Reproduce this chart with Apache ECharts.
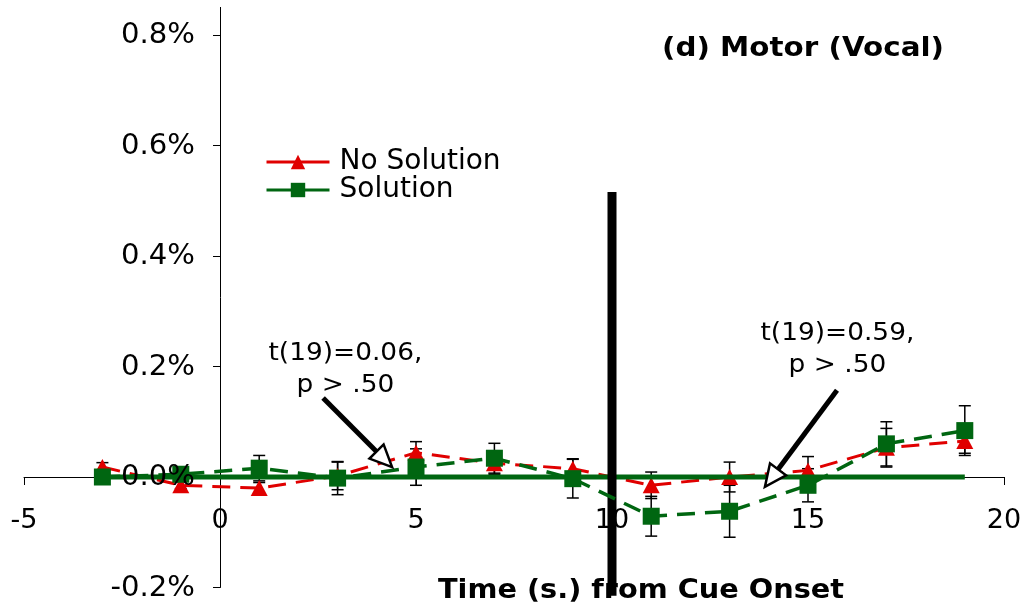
<!DOCTYPE html>
<html>
<head>
<meta charset="utf-8">
<script src="https://cdn.jsdelivr.net/npm/echarts@6/dist/echarts.min.js"></script>
<style>html,body{margin:0;padding:0;background:#fff;}#c{width:1029px;height:613px;}</style>
</head>
<body>
<div id="c"></div>
<script>
// ---- data ----
var times = [-3, -1, 1, 3, 5, 7, 9, 11, 13, 15, 17, 19];
var noSolution = [0.018, -0.015, -0.02, 0.002, 0.044, 0.025, 0.015, -0.015, 0.0, 0.012, 0.053, 0.065];
var noSolutionErr = [0.008, 0.006, 0.01, 0.025, 0.02, 0.02, 0.018, 0.024, 0.027, 0.025, 0.035, 0.022];
var solution = [0.0, 0.005, 0.016, -0.002, 0.018, 0.034, -0.003, -0.071, -0.062, -0.015, 0.06, 0.084];
var solutionErr = [0.005, 0.005, 0.023, 0.03, 0.033, 0.027, 0.035, 0.036, 0.047, 0.03, 0.04, 0.045];
var yTicks = [-0.2, 0, 0.2, 0.4, 0.6, 0.8];
var xTicks = [-5, 0, 5, 10, 15, 20];
var baselineX = [-3, 19];
var cueLineX = 10;
var cueLineY = [0.516, -0.215];
var annTexts = ['t(19)=0.06,\np > .50', 't(19)=0.59,\np > .50'];
var annTextPos = [[3.2, 0.194], [15.75, 0.231]];
var arrows = [[2.63, 0.143, 4.39, 0.018], [15.74, 0.157, 13.9, -0.018]];

var RED = '#e00000', GREEN = '#006611';
var FONT = 'DejaVu Sans';

function zip(a, b) { return a.map(function (v, i) { return [v, b[i]]; }); }
function zip3(a, b, c) { return a.map(function (v, i) { return [v, b[i], c[i]]; }); }

function errRender(params, api) {
  var x = api.value(0), y = api.value(1), e = api.value(2);
  var t = api.coord([x, y + e]), b = api.coord([x, y - e]);
  var w = 6;
  var st = { stroke: '#000', lineWidth: 1.5 };
  return { type: 'group', children: [
    { type: 'line', shape: { x1: t[0], y1: t[1], x2: b[0], y2: b[1] }, style: st },
    { type: 'line', shape: { x1: t[0] - w, y1: t[1], x2: t[0] + w, y2: t[1] }, style: st },
    { type: 'line', shape: { x1: b[0] - w, y1: b[1], x2: b[0] + w, y2: b[1] }, style: st }
  ]};
}

function arrowRender(params, api) {
  var p1 = api.coord([api.value(0), api.value(1)]);
  var p2 = api.coord([api.value(2), api.value(3)]);
  var dx = p2[0] - p1[0], dy = p2[1] - p1[1];
  var L = Math.sqrt(dx * dx + dy * dy); dx /= L; dy /= L;
  var hl = 22, hw = 10;
  var bx = p2[0] - dx * hl, by = p2[1] - dy * hl;
  var px = -dy, py = dx;
  return { type: 'group', children: [
    { type: 'line', shape: { x1: p1[0], y1: p1[1], x2: bx + dx * 2, y2: by + dy * 2 }, style: { stroke: '#000', lineWidth: 5 } },
    { type: 'polygon', shape: { points: [[p2[0], p2[1]], [bx + px * hw, by + py * hw], [bx - px * hw, by - py * hw]] },
      style: { fill: '#fff', stroke: '#000', lineWidth: 2.5 } }
  ]};
}

function textRender(params, api) {
  var p = api.coord([api.value(0), api.value(1)]);
  return { type: 'text', x: p[0], y: p[1], scaleX: 1.1, style: {
    text: annTexts[params.dataIndex], fill: '#000', font: '24px "' + FONT + '"',
    align: 'center', verticalAlign: 'middle', lineHeight: 32 } };
}

// tick labels drawn at the axis positions given by the scales
function yLabelRender(params, api) {
  var v = yTicks[params.dataIndex];
  var p = api.coord([0, v]);
  return { type: 'text', x: p[0] - 25, y: p[1] + 1, scaleX: 1.04, style: {
    text: v.toFixed(1) + '%', fill: '#000', font: '28px "' + FONT + '"',
    align: 'right', verticalAlign: 'middle' } };
}
function xLabelRender(params, api) {
  var v = xTicks[params.dataIndex];
  var p = api.coord([v, 0]);
  return { type: 'text', x: p[0], y: p[1] + 44, style: {
    text: String(v), fill: '#000', font: '27px "' + FONT + '"',
    align: 'center', verticalAlign: 'middle' } };
}

var chart = echarts.init(document.getElementById('c'), null, { renderer: 'canvas' });
chart.setOption({
  animation: false,
  backgroundColor: '#fff',
  textStyle: { fontFamily: FONT },
  graphic: [
    { type: 'text', left: 662, top: 36, scaleX: 1.13, z: 20,
      style: { text: '(d) Motor (Vocal)', font: 'bold 26px "' + FONT + '"', fill: '#000' } },
    { type: 'text', left: 438, top: 577, scaleX: 1.065, z: 20,
      style: { text: 'Time (s.) from Cue Onset', font: 'bold 27px "' + FONT + '"', fill: '#000' } }
  ],
  legend: {
    orient: 'vertical', left: 265, top: 148, padding: 0, itemGap: 0,
    itemWidth: 63, itemHeight: 18,
    data: ['No Solution', 'Solution'],
    lineStyle: { type: 'solid', width: 3 },
    textStyle: { fontFamily: FONT, fontSize: 28, color: '#000', padding: [0, 0, 0, 5] }
  },
  grid: { left: 24, right: 25, top: 7.4, bottom: 25.5 },
  xAxis: {
    type: 'value', min: -5, max: 20, interval: 5,
    axisLine: { onZero: true, lineStyle: { color: '#000', width: 1 } },
    axisTick: { show: true, length: 8, lineStyle: { color: '#000' } },
    axisLabel: { show: false },
    splitLine: { show: false }
  },
  yAxis: {
    type: 'value', min: -0.2, max: 0.85, interval: 0.2,
    axisLine: { show: true, onZero: true, lineStyle: { color: '#000', width: 1 } },
    axisTick: { show: true, length: 7, lineStyle: { color: '#000' }, customValues: yTicks },
    axisLabel: { show: false },
    splitLine: { show: false }
  },
  series: [
    { name: 'cue', type: 'line', data: [[cueLineX, cueLineY[0]], [cueLineX, cueLineY[1]]],
      showSymbol: false, symbol: 'none', clip: false, z: 5,
      lineStyle: { color: '#000', width: 9, cap: 'butt' }, silent: true },
    { name: 'errNo', type: 'custom', renderItem: errRender, data: zip3(times, noSolution, noSolutionErr),
      encode: { x: 0, y: 1 }, z: 2, silent: true },
    { name: 'errSol', type: 'custom', renderItem: errRender, data: zip3(times, solution, solutionErr),
      encode: { x: 0, y: 1 }, z: 2, silent: true },
    { name: 'No Solution', type: 'line', data: zip(times, noSolution), z: 3,
      symbol: 'triangle', symbolSize: [17, 16], itemStyle: { color: RED },
      lineStyle: { color: RED, width: 3, type: [18, 10] } },
    { name: 'baseline', type: 'line', data: [[baselineX[0], 0], [baselineX[1], 0]], z: 4,
      symbol: 'none', lineStyle: { color: GREEN, width: 5 }, silent: true },
    { name: 'Solution', type: 'line', data: zip(times, solution), z: 6,
      symbol: 'rect', symbolSize: 17, itemStyle: { color: GREEN },
      lineStyle: { color: GREEN, width: 3.5, type: [18, 10] } },
    { name: 'arrows', type: 'custom', renderItem: arrowRender, data: arrows,
      encode: { x: [0, 2], y: [1, 3] }, z: 8, silent: true, clip: false },
    { name: 'notes', type: 'custom', renderItem: textRender, data: annTextPos,
      encode: { x: 0, y: 1 }, z: 8, silent: true, clip: false },
    { name: 'yLabels', type: 'custom', renderItem: yLabelRender,
      data: yTicks.map(function (v) { return [0, v]; }),
      encode: { x: 0, y: 1 }, z: 9, silent: true, clip: false },
    { name: 'xLabels', type: 'custom', renderItem: xLabelRender,
      data: xTicks.map(function (v) { return [v, 0]; }),
      encode: { x: 0, y: 1 }, z: 1, silent: true, clip: false }
  ]
});
</script>
</body>
</html>
